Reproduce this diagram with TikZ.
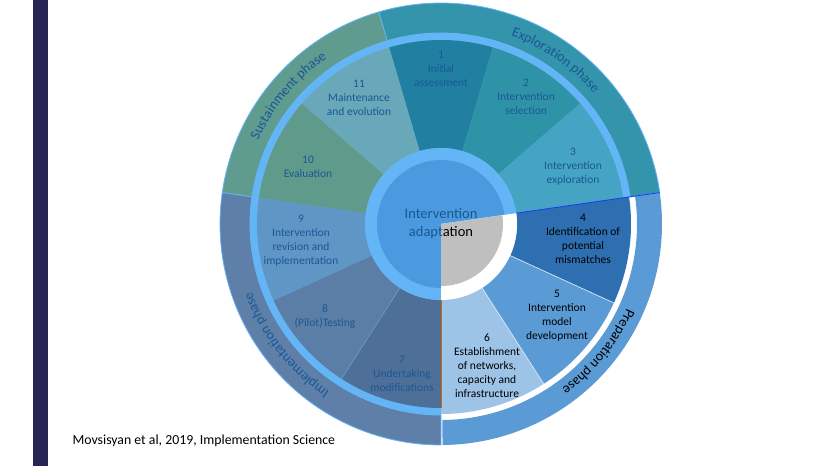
\documentclass[tikz,border=0pt]{standalone}
\usepackage{fontspec}
\setmainfont{Carlito}
\usetikzlibrary{decorations.text}

\definecolor{barnavy}{HTML}{262652}
\definecolor{sepblue}{HTML}{64B5F6}
\definecolor{labelblue}{HTML}{1A5894}
\definecolor{explring}{HTML}{3394AB}
\definecolor{sustring}{HTML}{5F9B8F}
\definecolor{implring}{HTML}{5E80A8}
\definecolor{prepring}{HTML}{5B9BD5}
\definecolor{segone}{HTML}{2180A2}
\definecolor{segtwo}{HTML}{2F93A8}
\definecolor{segthree}{HTML}{45A4C4}
\definecolor{segfour}{HTML}{2E6FB2}
\definecolor{segfive}{HTML}{5B9BD5}
\definecolor{segsix}{HTML}{9DC3E6}
\definecolor{segseven}{HTML}{4E6F98}
\definecolor{segeight}{HTML}{5B7EA6}
\definecolor{segnine}{HTML}{6096C6}
\definecolor{segten}{HTML}{5F9A8B}
\definecolor{segeleven}{HTML}{69A8B9}
\definecolor{hubblue}{HTML}{4B9ADF}
\definecolor{hubgray}{HTML}{BFBFBF}

\newcommand{\ringpart}[5]{\fill[#1] (#2:#4) -- (#2:#5) arc[start angle=#2, end angle=#3, radius=#5] -- (#3:#4) arc[start angle=#3, end angle=#2, radius=#4] -- cycle;}

\tikzset{
  steplabel/.style={align=center, text=labelblue, font=\fontsize{11.5}{14}\selectfont},
  preplabel/.style={steplabel, text=black},
  phaseline/.style={draw=sepblue, line width=0.8pt}
}

\begin{document}
\begin{tikzpicture}[x=1pt,y=1pt]
\useasboundingbox (0,0) rectangle (829,466);
\fill[barnavy] (33,0) rectangle (48,466);

\begin{scope}[shift={(441,242)}]
\ringpart{explring,phaseline}{8.182}{106.364}{191}{221}
\ringpart{sustring,phaseline}{106.364}{171.818}{191}{221}
\ringpart{implring,phaseline}{171.818}{270}{191}{221}
\ringpart{prepring}{-89.6}{8.182}{196}{221}
\ringpart{sepblue}{8.182}{270}{0}{191}

\ringpart{segone}{73.636}{106.364}{76}{184}
\ringpart{segtwo}{40.909}{73.636}{76}{184}
\ringpart{segthree}{8.182}{40.909}{76}{184}
\ringpart{segfour}{-24.545}{8.182}{76}{190}
\ringpart{segfive}{-57.273}{-24.545}{76}{190}
\ringpart{segsix}{-90}{-57.273}{76}{190}
\ringpart{segseven}{-122.727}{-90}{76}{184}
\ringpart{segeight}{-155.455}{-122.727}{76}{184}
\ringpart{segnine}{-188.182}{-155.455}{76}{184}
\ringpart{segten}{-220.909}{-188.182}{76}{184}
\ringpart{segeleven}{106.364}{139.091}{76}{184}
\draw[white!75!segfive, line width=0.7pt] (-24.545:76) -- (-24.545:190);
\draw[white!75!segfive, line width=0.7pt] (-57.273:76) -- (-57.273:190);
\draw[sepblue!60!segeight, line width=0.6pt] (-122.727:76) -- (-122.727:184);
\draw[blue!70!sepblue, line width=0.8pt] (8.182:76) -- (8.182:221);
\draw[orange!80!black, line width=0.7pt] (-90:76) -- (-90:184);

\fill[sepblue] (0,0) circle[radius=76];
\fill[hubblue] (0,0) circle[radius=64];
\ringpart{white}{-90}{8.182}{0}{76}
\ringpart{hubgray}{-90}{8.182}{0}{62}

\path[decorate, decoration={text along path, text align=center, text color=labelblue,
  text={|\fontsize{14}{14}\selectfont|Exploration phase}}] (75:201) arc[start angle=75, end angle=35, radius=201];
\path[decorate, decoration={text along path, text align=center, text color=labelblue,
  text={|\fontsize{14}{14}\selectfont|Sustainment phase}}] (160:201) arc[start angle=160, end angle=120, radius=201];
\path[decorate, decoration={text along path, text align=center, text color=labelblue,
  text={|\fontsize{14}{14}\selectfont|Implementation phase}}] (240:201) arc[start angle=240, end angle=196, radius=201];
\path[decorate, decoration={text along path, text align=center, text color=black,
  text={|\fontsize{14}{14}\selectfont|Preparation phase}}] (-18:204) arc[start angle=-18, end angle=-60, radius=204];
\end{scope}

\node[steplabel] (initial) at (441,397) {1\\Initial\\assessment};
\node[steplabel] (selection) at (526,369) {2\\Intervention\\selection};
\node[steplabel] (exploration) at (573,299) {3\\Intervention\\exploration};
\node[preplabel] (mismatch) at (583,227) {4\\Identification of\\potential\\mismatches};
\node[preplabel] (model) at (557,150) {5\\Intervention\\model\\development};
\node[preplabel] (networks) at (487,100) {6\\Establishment\\of networks,\\capacity and\\infrastructure};
\node[steplabel] (modify) at (402,92) {7\\Undertaking\\modifications};
\node[steplabel] (testing) at (325,149) {8\\(Pilot)Testing};
\node[steplabel] (revision) at (301,225) {9\\Intervention\\revision and\\implementation};
\node[steplabel] (evaluation) at (308,299) {10\\Evaluation};
\node[steplabel] (maintain) at (359,368) {11\\Maintenance\\and evolution};
\node[align=center, text=labelblue, font=\fontsize{14.5}{18}\selectfont] (adapt) at (441,242) {Intervention\\adapt\textcolor{black}{ation}};

\node[anchor=west, font=\fontsize{13.8}{15}\selectfont] (source) at (69,25) {Movsisyan et al, 2019, Implementation Science};
\end{tikzpicture}
\end{document}
